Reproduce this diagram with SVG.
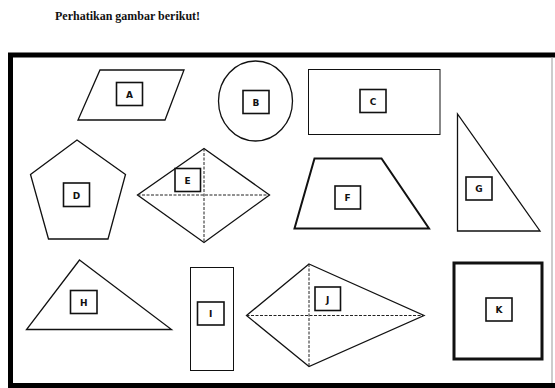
<svg xmlns="http://www.w3.org/2000/svg" width="555" height="388" viewBox="0 0 555 388">
<style>
.shape{fill:none;stroke:#111;stroke-width:1.3;stroke-linejoin:miter}
.thin{stroke-width:1}
.dash{fill:none;stroke:#222;stroke-width:1;stroke-dasharray:3 1.5}
.lbox{fill:#fff;stroke:#111;stroke-width:1.6}
.lbl{font-family:"DejaVu Sans","Liberation Sans",sans-serif;font-weight:bold;font-size:9px;fill:#111;text-anchor:middle}
.title{font-family:"Liberation Serif","Times New Roman",serif;font-weight:bold;font-size:12px;fill:#111}
</style>
<rect width="555" height="388" fill="#fff"/>
<text class="title" x="55" y="20">Perhatikan gambar berikut!</text>
<g id="frame">
<path d="M10.5 55 H555 M10.5 52.5 V388 M8 385.5 H555" fill="none" stroke="#000" stroke-width="5"/>
<path d="M552 57 V383" fill="none" stroke="#999" stroke-width="1"/>
</g>
<g id="A">
<polygon class="shape" points="100,70 184,70 165,120 78,120"/>
<rect class="lbox" x="116.5" y="82.5" width="26" height="23"/>
<text class="lbl" x="129.5" y="97.5">A</text>
</g>
<g id="B">
<ellipse class="shape" cx="255.5" cy="101" rx="37" ry="40"/>
<rect class="lbox" x="243" y="90.5" width="26" height="23"/>
<text class="lbl" x="256" y="105.5">B</text>
</g>
<g id="C">
<rect class="shape thin" x="308.5" y="69.5" width="131.5" height="65"/>
<rect class="lbox" x="360" y="89.5" width="26" height="23"/>
<text class="lbl" x="373" y="104.5">C</text>
</g>
<g id="G">
<polygon class="shape" points="457.5,114 457.5,231 540,231"/>
<rect class="lbox" x="466" y="177" width="26" height="23"/>
<text class="lbl" x="479" y="192">G</text>
</g>
<g id="D">
<polygon class="shape" points="77,140 125.5,174.5 108,239 48.5,239 30.5,174.5"/>
<rect class="lbox" x="63.5" y="183" width="26" height="23.5"/>
<text class="lbl" x="76.5" y="198.5">D</text>
</g>
<g id="E">
<polygon class="shape" points="204,148.5 269.5,195 204,242.5 137.5,195"/>
<path class="dash" d="M204 148.5 V242.5 M137.5 195 H269.5"/>
<rect class="lbox" x="175" y="168.5" width="25.5" height="23"/>
<text class="lbl" x="187.7" y="183.5">E</text>
</g>
<g id="F">
<polygon class="shape" style="stroke-width:2" points="314.5,158.5 381.5,158.5 429,228.5 294.5,228.5"/>
<rect class="lbox" x="335" y="186" width="25.5" height="23"/>
<text class="lbl" x="347.7" y="201">F</text>
</g>
<g id="H">
<polygon class="shape" points="79.5,260 171.5,329.5 26.5,329.5"/>
<rect class="lbox" x="70.5" y="290.5" width="26.5" height="23"/>
<text class="lbl" x="83.7" y="305.5">H</text>
</g>
<g id="I">
<rect class="shape thin" x="190.5" y="267.5" width="43" height="103"/>
<rect class="lbox" x="197.5" y="302" width="26.5" height="23"/>
<text class="lbl" x="210.7" y="317">I</text>
</g>
<g id="J">
<polygon class="shape" points="309,264 424,315.5 309,366.5 246.5,315.5"/>
<path class="dash" d="M309 264 V366.5 M246.5 315.5 H424"/>
<rect class="lbox" x="315" y="287" width="25.5" height="23.5"/>
<text class="lbl" x="327.7" y="302.5">J</text>
</g>
<g id="K">
<rect class="shape" style="stroke-width:3" x="454" y="263" width="88" height="96"/>
<rect class="lbox" x="486" y="298" width="26" height="23"/>
<text class="lbl" x="499" y="313">K</text>
</g>
</svg>
